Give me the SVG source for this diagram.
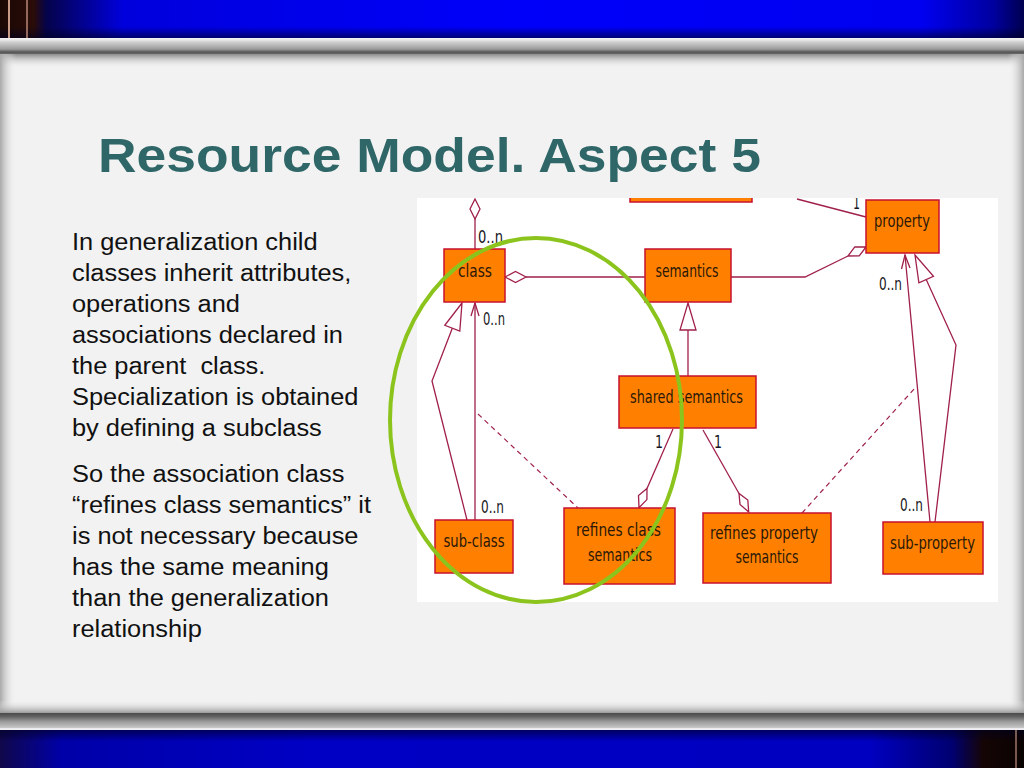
<svg xmlns="http://www.w3.org/2000/svg" width="1024" height="768" viewBox="0 0 1024 768">
<defs>
<linearGradient id="blueTop" x1="0" y1="0" x2="1" y2="0">
<stop offset="0" stop-color="#1a0805"/>
<stop offset="0.033" stop-color="#2a0c08"/>
<stop offset="0.045" stop-color="#05034a"/>
<stop offset="0.12" stop-color="#0000dc"/>
<stop offset="0.5" stop-color="#0000fa"/>
<stop offset="0.9" stop-color="#0000f0"/>
<stop offset="0.97" stop-color="#0000a0"/>
<stop offset="1" stop-color="#000050"/>
</linearGradient>
<linearGradient id="blueBot" x1="0" y1="0" x2="1" y2="0">
<stop offset="0" stop-color="#10084a"/>
<stop offset="0.06" stop-color="#0000a8"/>
<stop offset="0.3" stop-color="#0000c4"/>
<stop offset="0.85" stop-color="#0000c0"/>
<stop offset="0.93" stop-color="#000070"/>
<stop offset="0.96" stop-color="#150505"/>
<stop offset="1" stop-color="#0a0202"/>
</linearGradient>
<linearGradient id="vshadeTop" x1="0" y1="0" x2="0" y2="1">
<stop offset="0" stop-color="#000020" stop-opacity="0"/>
<stop offset="0.7" stop-color="#000020" stop-opacity="0"/>
<stop offset="1" stop-color="#000020" stop-opacity="0.6"/>
</linearGradient>
<linearGradient id="vshadeBot" x1="0" y1="0" x2="0" y2="1">
<stop offset="0" stop-color="#000020" stop-opacity="0.6"/>
<stop offset="0.3" stop-color="#000020" stop-opacity="0"/>
<stop offset="1" stop-color="#000020" stop-opacity="0"/>
</linearGradient>
<linearGradient id="barTop" x1="0" y1="0" x2="0" y2="1">
<stop offset="0" stop-color="#f4f4f8"/>
<stop offset="0.12" stop-color="#e8e8e8"/>
<stop offset="0.25" stop-color="#d0d0d0"/>
<stop offset="0.7" stop-color="#9a9a9a"/>
<stop offset="0.88" stop-color="#555555"/>
<stop offset="1" stop-color="#6a6a6a"/>
</linearGradient>
<linearGradient id="barBot" x1="0" y1="0" x2="0" y2="1">
<stop offset="0" stop-color="#4a4a4a"/>
<stop offset="0.2" stop-color="#606060"/>
<stop offset="0.5" stop-color="#9a9a9a"/>
<stop offset="0.85" stop-color="#c4c4c4"/>
<stop offset="0.92" stop-color="#f0f0f4"/>
<stop offset="1" stop-color="#f0f0f4"/>
</linearGradient>
<linearGradient id="shTop" x1="0" y1="0" x2="0" y2="1">
<stop offset="0" stop-color="#8a8a8a"/>
<stop offset="1" stop-color="#f2f2f2" stop-opacity="0"/>
</linearGradient>
<linearGradient id="shBot" x1="0" y1="0" x2="0" y2="1">
<stop offset="0" stop-color="#f2f2f2" stop-opacity="0"/>
<stop offset="1" stop-color="#9a9a9a"/>
</linearGradient>
<linearGradient id="shLeft" x1="0" y1="0" x2="1" y2="0">
<stop offset="0" stop-color="#a8a8a8"/>
<stop offset="1" stop-color="#f2f2f2" stop-opacity="0"/>
</linearGradient>
<linearGradient id="shRight" x1="0" y1="0" x2="1" y2="0">
<stop offset="0" stop-color="#f2f2f2" stop-opacity="0"/>
<stop offset="1" stop-color="#a8a8a8"/>
</linearGradient>
<clipPath id="imgClip"><rect x="417" y="198" width="581" height="404"/></clipPath>
<style>
.body{font-family:"Liberation Sans",Arial,Helvetica,sans-serif;font-size:23.3px;fill:#111111}
.title{font-family:"Liberation Sans",Arial,Helvetica,sans-serif;font-size:49px;font-weight:bold;fill:#2f6668}
.box{fill:#ff8000;stroke:#c8102e;stroke-width:1.5}
.lbl{font-family:"DejaVu Sans","Liberation Sans",sans-serif;font-size:18px;fill:#2a1808;text-anchor:middle}
.mult{font-family:"DejaVu Sans","Liberation Sans",sans-serif;font-size:18px;fill:#161622}
.ln{fill:none;stroke:#a0204a;stroke-width:1.3}
.dash{fill:none;stroke:#a0204a;stroke-width:1.2;stroke-dasharray:5 4}
.hollow{fill:#ffffff;stroke:#a0204a;stroke-width:1.3}
</style>
</defs>

<!-- slide background -->
<rect x="0" y="0" width="1024" height="768" fill="#f2f2f2"/>
<rect x="0" y="0" width="1024" height="38" fill="url(#blueTop)"/>
<rect x="0" y="0" width="1024" height="38" fill="url(#vshadeTop)"/>
<line x1="9" y1="0" x2="9" y2="38" stroke="#c89a88" stroke-width="2"/>
<line x1="27" y1="0" x2="27" y2="38" stroke="#b88878" stroke-width="1.5"/>
<rect x="0" y="38" width="1024" height="16" fill="url(#barTop)"/>
<rect x="0" y="54" width="1024" height="14" fill="url(#shTop)"/>
<rect x="0" y="54" width="16" height="660" fill="url(#shLeft)"/>
<rect x="1008" y="54" width="16" height="660" fill="url(#shRight)"/>
<rect x="0" y="700" width="1024" height="13" fill="url(#shBot)"/>
<rect x="0" y="713" width="1024" height="17" fill="url(#barBot)"/>
<rect x="0" y="730" width="1024" height="38" fill="url(#blueBot)"/>
<rect x="0" y="730" width="1024" height="38" fill="url(#vshadeBot)"/>
<line x1="1016" y1="730" x2="1016" y2="768" stroke="#a07868" stroke-width="1.5"/>

<!-- title -->
<g transform="scale(1.09 1)">
<text class="title" x="89.9" y="172">Resource Model. Aspect 5</text>
</g>

<!-- body text -->
<g transform="scale(1.09 1)">
<text class="body" x="66.06" y="250">In generalization child</text>
<text class="body" x="66.06" y="281">classes inherit attributes,</text>
<text class="body" x="66.06" y="312">operations and</text>
<text class="body" x="66.06" y="343">associations declared in</text>
<text class="body" x="66.06" y="374" xml:space="preserve">the parent  class.</text>
<text class="body" x="66.06" y="405">Specialization is obtained</text>
<text class="body" x="66.06" y="436">by defining a subclass</text>
<text class="body" x="66.06" y="482">So the association class</text>
<text class="body" x="66.06" y="513">“refines class semantics” it</text>
<text class="body" x="66.06" y="544">is not necessary because</text>
<text class="body" x="66.06" y="575">has the same meaning</text>
<text class="body" x="66.06" y="606">than the generalization</text>
<text class="body" x="66.06" y="637">relationship</text>
</g>

<!-- diagram picture -->
<rect x="417" y="198" width="581" height="404" fill="#ffffff"/>
<g clip-path="url(#imgClip)">
<g id="connectors">
<!-- class aggregated upward -->
<line class="ln" x1="475" y1="219" x2="475" y2="249"/>
<polygon class="hollow" points="475,199 480,209 475,219 470,209"/>
<text class="mult" x="478" y="243" textLength="25" lengthAdjust="spacingAndGlyphs">0..n</text>
<!-- class - semantics -->
<line class="ln" x1="526" y1="277" x2="645" y2="277"/>
<polygon class="hollow" points="505,277 515.5,271.5 526,277 515.5,282.5"/>
<!-- semantics - property -->
<polyline class="ln" points="731,277 805,277 848,256"/>
<polygon class="hollow" points="866,247 859.2,255.9 848,256 854.8,246.9"/>
<!-- top box - property -->
<line class="ln" x1="797" y1="199" x2="866" y2="217"/>
<text class="mult" x="853" y="209" textLength="7" lengthAdjust="spacingAndGlyphs">1</text>
<!-- shared semantics generalizes semantics -->
<line class="ln" x1="688" y1="330" x2="688" y2="376"/>
<polygon class="hollow" points="688,303 696,330 680,330"/>
<!-- sub-class to class association -->
<line class="ln" x1="475" y1="520" x2="475" y2="303"/>
<polyline class="ln" points="471,316 475,303 479,316"/>
<text class="mult" x="483" y="325" textLength="22" lengthAdjust="spacingAndGlyphs">0..n</text>
<text class="mult" x="481" y="513" textLength="23" lengthAdjust="spacingAndGlyphs">0..n</text>
<!-- sub-class generalization -->
<polyline class="ln" points="452.3,328.2 432,381 467,520"/>
<polygon class="hollow" points="462,303 459.8,331.1 444.8,325.3"/>
<!-- association class dashed link -->
<line class="dash" x1="478" y1="414" x2="578" y2="508"/>
<!-- shared semantics to refines class semantics -->
<line class="ln" x1="673" y1="429" x2="647" y2="488.5"/>
<polygon class="hollow" points="639,507.8 638.5,495.6 647,488.5 646.9,499.6"/>
<text class="mult" x="655" y="448" textLength="8" lengthAdjust="spacingAndGlyphs">1</text>
<!-- shared semantics to refines property semantics -->
<line class="ln" x1="703" y1="430" x2="739" y2="493.5"/>
<polygon class="hollow" points="748.7,512 747.8,500 739,493.5 740,504.4"/>
<text class="mult" x="714" y="448" textLength="8" lengthAdjust="spacingAndGlyphs">1</text>
<!-- association class dashed link (property) -->
<line class="dash" x1="802" y1="513" x2="915" y2="388"/>
<!-- sub-property to property association -->
<line class="ln" x1="930" y1="522" x2="905" y2="255"/>
<polyline class="ln" points="901.5,269 905,255 910,268"/>
<text class="mult" x="879" y="290" textLength="23" lengthAdjust="spacingAndGlyphs">0..n</text>
<text class="mult" x="900" y="511" textLength="23" lengthAdjust="spacingAndGlyphs">0..n</text>
<!-- sub-property generalization -->
<polyline class="ln" points="935,522 956,345 926.2,279.6"/>
<polygon class="hollow" points="915,255 933.5,276.3 918.9,282.9"/>
</g>

<g id="node-top">
<rect class="box" x="630" y="188" width="122" height="14"/>
</g>
<g id="node-class">
<rect class="box" x="444" y="249" width="61" height="53"/>
<text class="lbl" x="475" y="277" textLength="34" lengthAdjust="spacingAndGlyphs">class</text>
</g>
<g id="node-semantics">
<rect class="box" x="645" y="249" width="86" height="53"/>
<text class="lbl" x="687" y="277" textLength="63" lengthAdjust="spacingAndGlyphs">semantics</text>
</g>
<g id="node-property">
<rect class="box" x="866" y="200" width="73" height="53"/>
<text class="lbl" x="902" y="227" textLength="56" lengthAdjust="spacingAndGlyphs">property</text>
</g>
<g id="node-shared-semantics">
<rect class="box" x="619" y="376" width="137" height="52"/>
<text class="lbl" x="686.5" y="403" textLength="113" lengthAdjust="spacingAndGlyphs">shared semantics</text>
</g>
<g id="node-sub-class">
<rect class="box" x="435" y="520" width="78" height="53"/>
<text class="lbl" x="474" y="547" textLength="61" lengthAdjust="spacingAndGlyphs">sub-class</text>
</g>
<g id="node-refines-class-semantics">
<rect class="box" x="564" y="508" width="111" height="76"/>
<text class="lbl" x="618.5" y="536" textLength="85" lengthAdjust="spacingAndGlyphs">refines class</text>
<text class="lbl" x="620" y="561" textLength="64" lengthAdjust="spacingAndGlyphs">semantics</text>
</g>
<g id="node-refines-property-semantics">
<rect class="box" x="703" y="513" width="128" height="70"/>
<text class="lbl" x="764" y="539" textLength="108" lengthAdjust="spacingAndGlyphs">refines property</text>
<text class="lbl" x="767" y="563" textLength="63" lengthAdjust="spacingAndGlyphs">semantics</text>
</g>
<g id="node-sub-property">
<rect class="box" x="883" y="522" width="100" height="52"/>
<text class="lbl" x="932.5" y="549" textLength="85" lengthAdjust="spacingAndGlyphs">sub-property</text>
</g>
</g>

<!-- green highlight -->
<g id="highlight">
<ellipse cx="536" cy="420" rx="146" ry="182" fill="none" stroke="#8cc41e" stroke-width="4"/>
</g>
</svg>
